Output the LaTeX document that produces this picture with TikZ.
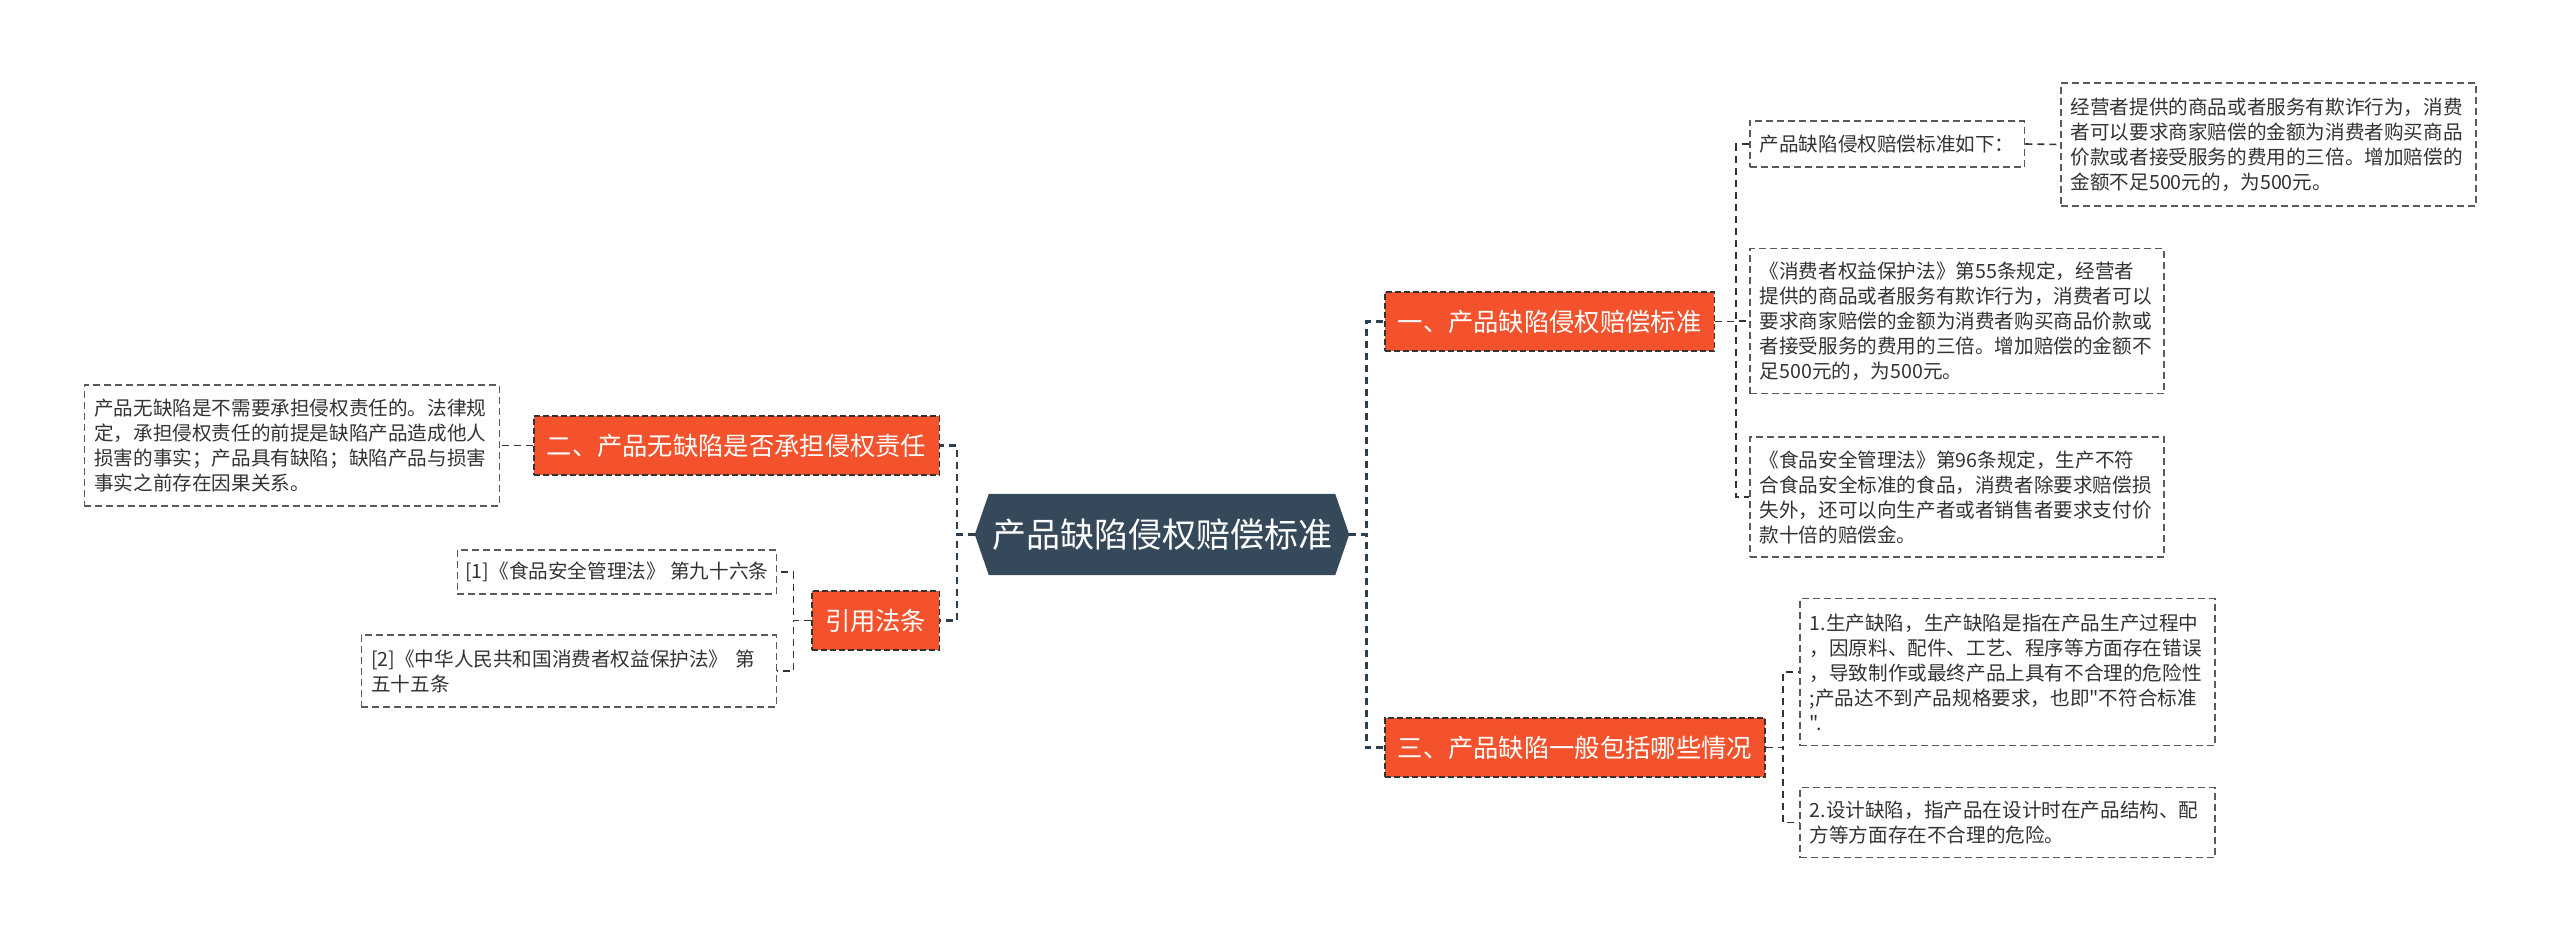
\documentclass[tikz,border=0pt]{standalone}
\usepackage{fontspec}
\newfontfamily\cjk{Noto Sans CJK SC}
\usetikzlibrary{backgrounds,calc}
\definecolor{hexc}{RGB}{54,73,90}
\definecolor{orn}{RGB}{243,82,44}
\definecolor{txt}{RGB}{51,51,51}
\definecolor{bord}{RGB}{90,90,90}
\definecolor{mainln}{RGB}{44,62,80}
\begin{document}
\begin{tikzpicture}[x=1pt,y=-1pt,
  root/.style={minimum width=346pt, minimum height=81pt, inner sep=0pt, text=white, font=\cjk\fontsize{34}{40}\selectfont},
  lvl/.style={fill=orn, draw=txt, dash pattern=on 6pt off 3pt, line width=1.5pt, text=white, font=\cjk\fontsize{25.3}{30}\selectfont, inner xsep=13pt, inner ysep=0pt, minimum height=59pt},
  tbox/.style={draw=bord, dash pattern=on 7pt off 4pt, line width=1.5pt, fill=white, text=txt, font=\cjk\fontsize{19.6}{25}\selectfont, align=left, inner xsep=10pt, inner ysep=0pt},
  mainconn/.style={draw=mainln, line width=2.6pt, dash pattern=on 7pt off 5pt},
  subconn/.style={draw=txt, line width=1.6pt, dash pattern=on 7pt off 5pt},
]
\useasboundingbox (0,0) rectangle (2560,943);

% central node
\node[root] (c) at (1162,534.5) {产品缺陷侵权赔偿标准};

% level 1
\node[lvl, anchor=west] (n1) at (1384,321.5) {一、产品缺陷侵权赔偿标准};
\node[lvl, anchor=west] (n3) at (1384,747.5) {三、产品缺陷一般包括哪些情况};
\node[lvl, anchor=east] (n2) at (940,445.5) {二、产品无缺陷是否承担侵权责任};
\node[lvl, anchor=east] (n4) at (940,620.5) {引用法条};

% right top branch
\node[tbox, anchor=west, minimum height=46pt] (a1) at (1749,144) {产品缺陷侵权赔偿标准如下：};
\node[tbox, anchor=west, text width=395pt, minimum height=123pt] (a11) at (2060,144.5) {经营者提供的商品或者服务有欺诈行为，消费\\者可以要求商家赔偿的金额为消费者购买商品\\价款或者接受服务的费用的三倍。增加赔偿的\\金额不足500元的，为500元。};
\node[tbox, anchor=west, text width=394pt, minimum height=145pt] (a2) at (1749,321) {《消费者权益保护法》第55条规定，经营者\\提供的商品或者服务有欺诈行为，消费者可以\\要求商家赔偿的金额为消费者购买商品价款或\\者接受服务的费用的三倍。增加赔偿的金额不\\足500元的，为500元。};
\node[tbox, anchor=west, text width=394pt, minimum height=120pt] (a3) at (1749,497) {《食品安全管理法》第96条规定，生产不符\\合食品安全标准的食品，消费者除要求赔偿损\\失外，还可以向生产者或者销售者要求支付价\\款十倍的赔偿金。};

% right bottom branch
\node[tbox, anchor=west, text width=395pt, minimum height=147pt] (b1) at (1799,672) {1.生产缺陷，生产缺陷是指在产品生产过程中\\，因原料、配件、工艺、程序等方面存在错误\\，导致制作或最终产品上具有不合理的危险性\\;产品达不到产品规格要求，也即"不符合标准\\".};
\node[tbox, anchor=west, text width=395pt, minimum height=70pt] (b2) at (1799,822.5) {2.设计缺陷，指产品在设计时在产品结构、配\\方等方面存在不合理的危险。};

% left branches
\node[tbox, anchor=east, text width=395pt, minimum height=121pt] (l1) at (500,445.5) {产品无缺陷是不需要承担侵权责任的。法律规\\定，承担侵权责任的前提是缺陷产品造成他人\\损害的事实；产品具有缺陷；缺陷产品与损害\\事实之前存在因果关系。};
\node[tbox, anchor=east, inner xsep=8pt, minimum height=44pt] (r1) at (777,572) {[1]《食品安全管理法》 第九十六条};
\node[tbox, anchor=east, text width=395pt, minimum height=72pt] (r2) at (777,671) {[2]《中华人民共和国消费者权益保护法》 第\\五十五条};

% background and hexagon
\begin{scope}[on background layer]
\fill[white] (0,0) rectangle (2560,943);
\fill[hexc] (c.north west) -- (c.north east) -- ($(c.east)+(14,0)$) -- (c.south east) -- (c.south west) -- ($(c.west)+(-14,0)$) -- cycle;
\end{scope}
\coordinate (cl) at ($(c.west)+(-14,0)$);
\coordinate (cr) at ($(c.east)+(14,0)$);

% connectors
\draw[mainconn] (cl) -- ++(-18,0) |- (n2.east);
\draw[mainconn] (cl) -- ++(-18,0) |- (n4.east);
\draw[mainconn] (cr) -- ++(17,0) |- (n1.west);
\draw[mainconn] (cr) -- ++(17,0) |- (n3.west);

\draw[subconn] (n1.east) -- ++(21,0) |- (a1.west);
\draw[subconn] (n1.east) -- ++(21,0) |- (a2.west);
\draw[subconn] (n1.east) -- ++(21,0) |- (a3.west);
\draw[subconn] (a1.east) -- (a11.west);

\draw[subconn] (n3.east) -- ++(17,0) |- (b1.west);
\draw[subconn] (n3.east) -- ++(17,0) |- (b2.west);

\draw[subconn] (n2.west) -- (l1.east);
\draw[subconn] (n4.west) -- ++(-18,0) |- (r1.east);
\draw[subconn] (n4.west) -- ++(-18,0) |- (r2.east);
\end{tikzpicture}
\end{document}
